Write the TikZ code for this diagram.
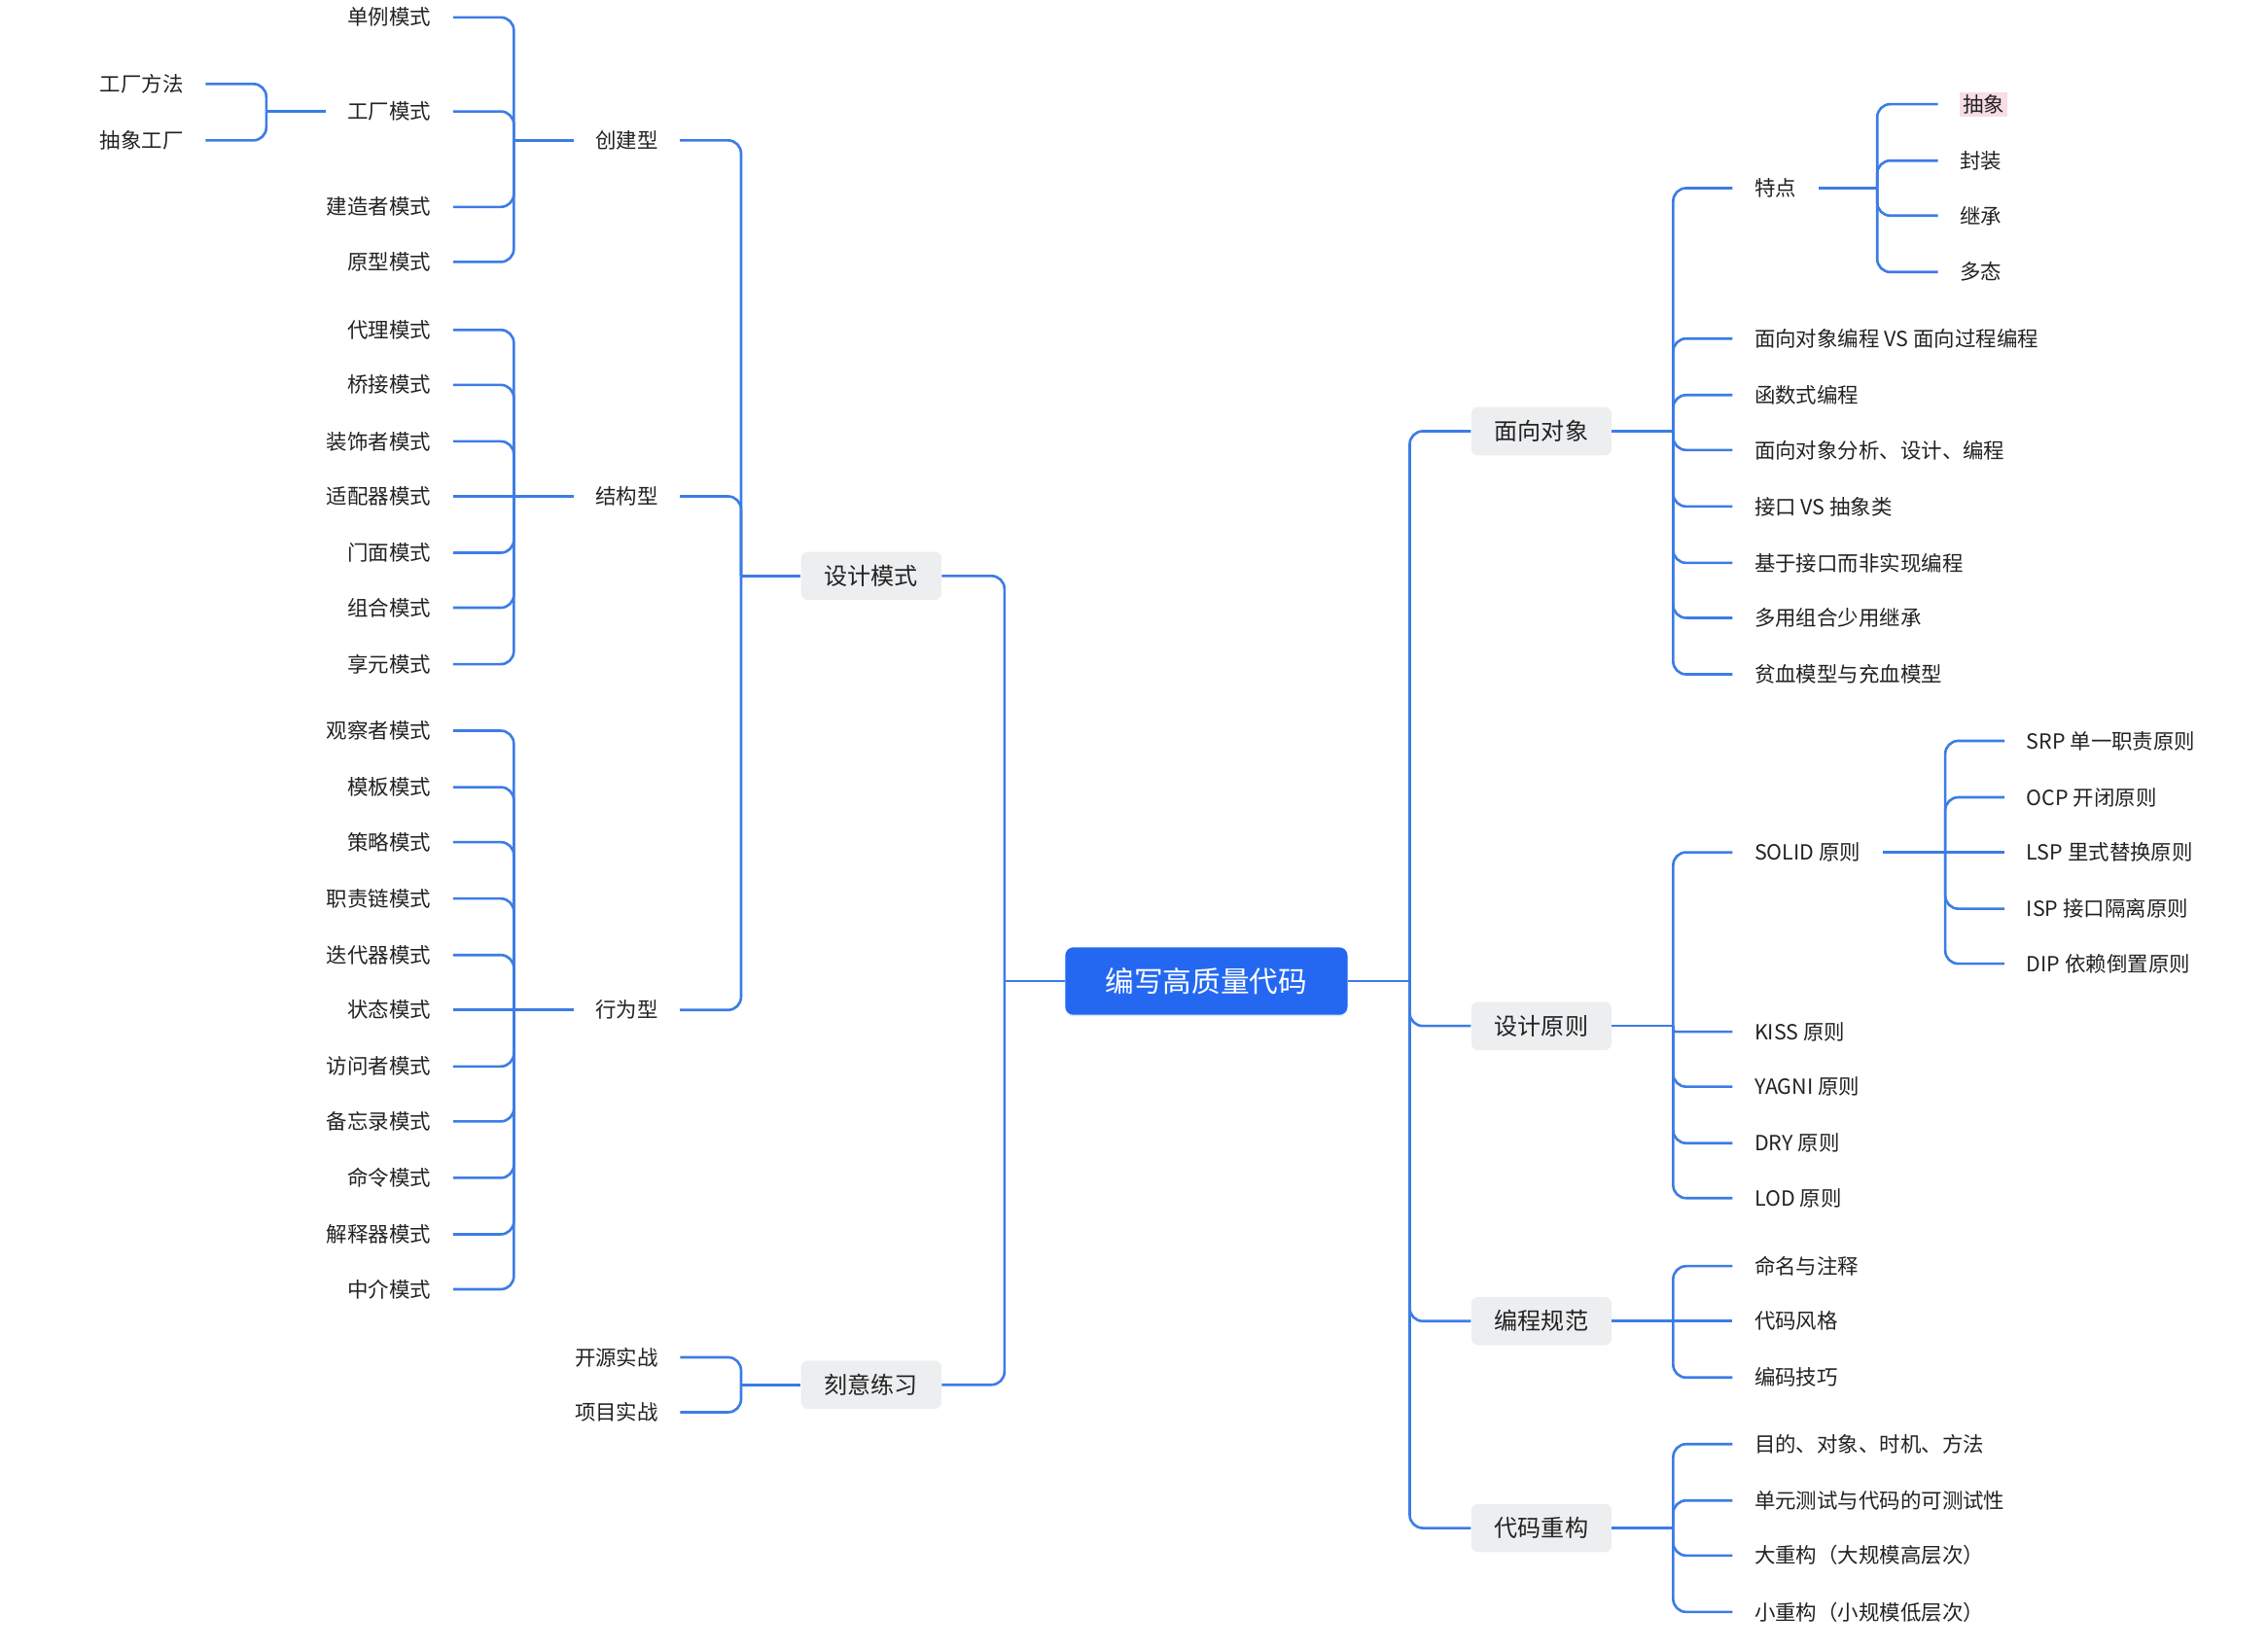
\documentclass[tikz,border=0pt]{standalone}
\usepackage{fontspec}
\setmainfont{Noto Sans CJK SC}
\usetikzlibrary{shadows}

\definecolor{lineblue}{HTML}{3C7CE6}
\definecolor{rootblue}{HTML}{2468F2}
\definecolor{boxgray}{HTML}{EDEEF0}
\definecolor{textdark}{HTML}{222222}
\definecolor{absbg}{HTML}{F8DCE6}

\newcommand{\leaffont}{\fontsize{12.3pt}{14pt}\selectfont}
\newcommand{\topicfont}{\fontsize{13.8pt}{16pt}\selectfont}
\newcommand{\rootfont}{\fontsize{17pt}{20pt}\selectfont}
\newcommand{\hilite}[1]{{\setlength{\fboxsep}{1.5pt}\colorbox{absbg}{#1}}}

\begin{document}
\begin{tikzpicture}[x=0.03cm, y=-0.03cm,
    conn/.style = {draw=lineblue, line width=1.5pt, rounded corners=0.27cm},
    leaf/.style = {inner xsep=0.45cm, inner ysep=2pt, text=textdark, font=\leaffont},
    topic/.style = {fill=boxgray, text=textdark, rounded corners=0.14cm,
        minimum width=2.91cm, minimum height=1.0cm, inner sep=0pt, font=\topicfont},
    centre/.style = {fill=rootblue, text=white, rounded corners=0.17cm,
        minimum width=5.85cm, minimum height=1.4cm, inner sep=0pt, font=\rootfont,
        drop shadow={shadow xshift=0pt, shadow yshift=-1pt, fill=rootblue, opacity=0.15}}]
    % \draw [help lines] (0,0) grid[step=100] (1567,1140);
    \useasboundingbox (0,0) rectangle (1567,1140);

    % root and main topics
    \node (root) [centre] at (833.5,678) {编写高质量代码};
    \node (sjms) [topic] at (602,398) {设计模式};
    \node (kylx) [topic] at (602,957) {刻意练习};
    \node (mxdx) [topic] at (1065,298) {面向对象};
    \node (sjyz) [topic] at (1065,709) {设计原则};
    \node (bcgf) [topic] at (1065,913) {编程规范};
    \node (dmcg) [topic] at (1065,1056) {代码重构};

    \draw [conn] (root.west) -- (694,678);
    \foreach \tp in {sjms, kylx}
        \draw [conn] (694,678) |- (\tp.east);
    \draw [conn] (root.east) -- (974,678);
    \foreach \tp in {mxdx, sjyz, bcgf, dmcg}
        \draw [conn] (974,678) |- (\tp.west);

    % 设计模式
    \node (cjx) [leaf] at (433,97) {创建型};
    \node (jgx) [leaf] at (433,343) {结构型};
    \node (xwx) [leaf] at (433,698) {行为型};
    \draw [conn] (sjms.west) -- (512,398);
    \foreach \tp in {cjx, jgx, xwx}
        \draw [conn] (512,398) |- (\tp.east);

    % 创建型
    \draw [conn] (cjx.west) -- (355,97);
    \foreach \nm/\txt/\yy in {dlms/单例模式/12, gcms/工厂模式/77,
            jzzms/建造者模式/143, yxms/原型模式/181} {
        \node (\nm) [leaf, anchor=east] at (313,\yy) {\txt};
        \draw [conn] (355,97) |- (\nm.east);
    }
    \draw [conn] (gcms.west) -- (184,77);
    \foreach \nm/\txt/\yy in {gcff/工厂方法/58, cxgc/抽象工厂/97} {
        \node (\nm) [leaf, anchor=east] at (142,\yy) {\txt};
        \draw [conn] (184,77) |- (\nm.east);
    }

    % 结构型
    \node (spqms) [leaf, anchor=east] at (313,343) {适配器模式};
    \draw [conn] (jgx.west) -- (spqms.east);
    \foreach \nm/\txt/\yy in {dlms2/代理模式/228, qjms/桥接模式/266,
            zszms/装饰者模式/305, mmms/门面模式/382, zhms/组合模式/420,
            xyms/享元模式/459} {
        \node (\nm) [leaf, anchor=east] at (313,\yy) {\txt};
        \draw [conn] (355,343) |- (\nm.east);
    }

    % 行为型
    \node (ztms) [leaf, anchor=east] at (313,698) {状态模式};
    \draw [conn] (xwx.west) -- (ztms.east);
    \foreach \nm/\txt/\yy in {gczms/观察者模式/505, mbms/模板模式/544,
            clms/策略模式/582, zzlms/职责链模式/621, ddqms/迭代器模式/660,
            fwzms/访问者模式/737, bwlms/备忘录模式/775, mlms/命令模式/814,
            jsqms/解释器模式/853, zjms/中介模式/891} {
        \node (\nm) [leaf, anchor=east] at (313,\yy) {\txt};
        \draw [conn] (355,698) |- (\nm.east);
    }

    % 刻意练习
    \draw [conn] (kylx.west) -- (512,957);
    \foreach \nm/\txt/\yy in {kysz/开源实战/938, xmsz/项目实战/976} {
        \node (\nm) [leaf, anchor=east] at (470,\yy) {\txt};
        \draw [conn] (512,957) |- (\nm.east);
    }

    % 面向对象
    \draw [conn] (mxdx.east) -- (1156,298);
    \foreach \nm/\txt/\yy in {td/特点/130, vsgc/面向对象编程 VS 面向过程编程/234,
            hsbc/函数式编程/273, fxsj/面向对象分析、设计、编程/311,
            jkvs/接口 VS 抽象类/350, jyjk/基于接口而非实现编程/389,
            dyzh/多用组合少用继承/427, pxmx/贫血模型与充血模型/466} {
        \node (\nm) [leaf, anchor=west] at (1197,\yy) {\txt};
        \draw [conn] (1156,298) |- (\nm.west);
    }
    \draw [conn] (td.east) -- (1297,130);
    \foreach \nm/\txt/\yy in {cx/\hilite{抽象}/72, fz/封装/111, jc/继承/149, dt/多态/188} {
        \node (\nm) [leaf, anchor=west] at (1339,\yy) {\txt};
        \draw [conn] (1297,130) |- (\nm.west);
    }

    % 设计原则
    \node (kiss) [leaf, anchor=west] at (1197,713) {KISS 原则};
    \draw [conn] (sjyz.east) -- (1156,709);
    \draw [conn, rounded corners=0.05cm] (1156,709) |- (kiss.west);
    \foreach \nm/\txt/\yy in {solid/SOLID 原则/589, yagni/YAGNI 原则/751,
            dry/DRY 原则/790, lod/LOD 原则/828} {
        \node (\nm) [leaf, anchor=west] at (1197,\yy) {\txt};
        \draw [conn] (1156,709) |- (\nm.west);
    }
    \node (lsp) [leaf, anchor=west] at (1385,589) {LSP 里式替换原则};
    \draw [conn] (solid.east) -- (lsp.west);
    \foreach \nm/\txt/\yy in {srp/SRP 单一职责原则/512, ocp/OCP 开闭原则/551,
            isp/ISP 接口隔离原则/628, dip/DIP 依赖倒置原则/666} {
        \node (\nm) [leaf, anchor=west] at (1385,\yy) {\txt};
        \draw [conn] (1344,589) |- (\nm.west);
    }

    % 编程规范
    \node (dmfg) [leaf, anchor=west] at (1197,913) {代码风格};
    \draw [conn] (bcgf.east) -- (dmfg.west);
    \foreach \nm/\txt/\yy in {mmzs/命名与注释/875, bmjq/编码技巧/952} {
        \node (\nm) [leaf, anchor=west] at (1197,\yy) {\txt};
        \draw [conn] (1156,913) |- (\nm.west);
    }

    % 代码重构
    \draw [conn] (dmcg.east) -- (1156,1056);
    \foreach \nm/\txt/\yy in {mddx/目的、对象、时机、方法/998,
            dycs/单元测试与代码的可测试性/1037,
            dcg/大重构（大规模高层次）/1075, xcg/小重构（小规模低层次）/1114} {
        \node (\nm) [leaf, anchor=west] at (1197,\yy) {\txt};
        \draw [conn] (1156,1056) |- (\nm.west);
    }
\end{tikzpicture}
\end{document}
